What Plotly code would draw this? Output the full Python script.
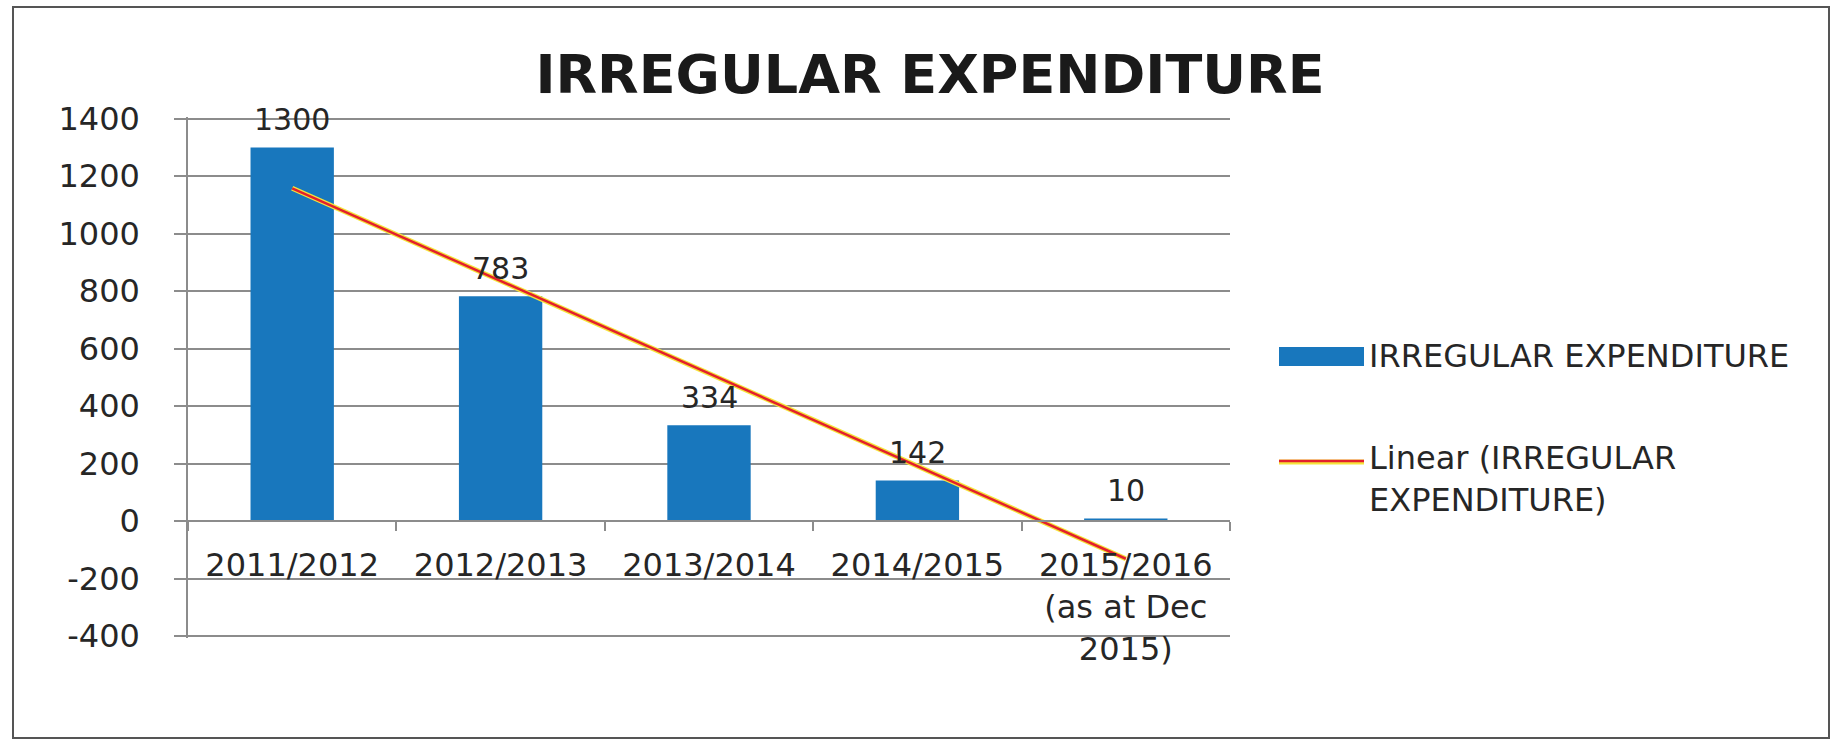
import numpy as np
import plotly.graph_objects as go

# ---- data ----
categories = ["2011/2012", "2012/2013", "2013/2014", "2014/2015", "2015/2016<br>(as at Dec<br>2015)"]
values = [1300, 783, 334, 142, 10]
y_ticks = [-400, -200, 0, 200, 400, 600, 800, 1000, 1200, 1400]
y_tick_text = [str(v) for v in y_ticks]
title_text = "IRREGULAR EXPENDITURE"
series_name = "IRREGULAR EXPENDITURE"
trend_name = "Linear (IRREGULAR<br>EXPENDITURE)"

# Excel-style linear trendline (least squares on category index)
idx = np.arange(1, len(values) + 1)
slope, intercept = np.polyfit(idx, values, 1)
trend = slope * idx + intercept

# ---- layout geometry ----
W, H = 1838, 742
L, R, T, B = 188, 608, 117, 104
PW, PH = W - L - R, H - T - B
YMIN, YMAX = -400, 1400
EPS = 6

def px_x(px):
    return (px - L) / PW

def px_y(py):
    return (H - B - py) / PH

FONT = "DejaVu Sans"
GRID = "#8c8c8c"
BLUE = "#1877bd"
RED = "#e3202c"
YELLOW = "#f5e43a"
TXT = "#262626"

fig = go.Figure()
fig.add_trace(go.Bar(x=categories, y=values, marker_color=BLUE, marker_line_width=0,
                     name=series_name, showlegend=False))
fig.add_trace(go.Scatter(x=categories, y=trend, mode="lines",
                         line=dict(color=YELLOW, width=5), showlegend=False, hoverinfo="skip"))
fig.add_trace(go.Scatter(x=categories, y=trend, mode="lines",
                         line=dict(color=RED, width=2.5), name=trend_name, showlegend=False))

annotations = []
for c, v in zip(categories, values):
    annotations.append(dict(x=c, y=v, xref="x", yref="y", text=str(v), showarrow=False,
                            yanchor="bottom", yshift=8,
                            font=dict(family=FONT, size=30, color=TXT)))

# custom legend
shapes = [
    dict(type="rect", xref="paper", yref="paper", x0=px_x(1279), x1=px_x(1364),
         y0=px_y(366), y1=px_y(347), fillcolor=BLUE, line=dict(width=0)),
    dict(type="line", xref="paper", yref="paper", x0=px_x(1279), x1=px_x(1364),
         y0=px_y(462), y1=px_y(462), line=dict(color=YELLOW, width=5)),
    dict(type="line", xref="paper", yref="paper", x0=px_x(1279), x1=px_x(1364),
         y0=px_y(461), y1=px_y(461), line=dict(color=RED, width=2.5)),
    # outer chart frame
    dict(type="rect", xref="paper", yref="paper", x0=px_x(13), x1=px_x(1829),
         y0=px_y(738), y1=px_y(7), line=dict(color="#555555", width=2), fillcolor="rgba(0,0,0,0)"),
]
annotations.append(dict(xref="paper", yref="paper", x=px_x(1367), y=px_y(356), text=series_name,
                        showarrow=False, xanchor="left", yanchor="middle",
                        font=dict(family=FONT, size=32, color=TXT)))
annotations.append(dict(xref="paper", yref="paper", x=px_x(1367), y=px_y(437), text=trend_name,
                        showarrow=False, xanchor="left", yanchor="top", align="left",
                        font=dict(family=FONT, size=32, color=TXT)))

fig.update_layout(
    width=W, height=H,
    margin=dict(l=L, r=R, t=T, b=B, pad=0),
    paper_bgcolor="white", plot_bgcolor="white",
    bargap=0.6,
    showlegend=False,
    title=dict(text="<b>" + title_text + "</b>", xref="container", yref="container",
               x=930 / W, y=1 - 74 / H, xanchor="center", yanchor="middle",
               font=dict(family=FONT, size=54, color="#1a1a1a")),
    xaxis=dict(type="category", anchor="free", position=(0 - YMIN + EPS) / (YMAX - YMIN + 2 * EPS),
               showline=True, linecolor=GRID, linewidth=1.5,
               ticks="outside", tickson="boundaries", ticklen=9, tickcolor=GRID, tickwidth=1.5,
               showgrid=False, zeroline=False, ticklabelstandoff=16,
               tickfont=dict(family=FONT, size=32, color=TXT)),
    yaxis=dict(range=[YMIN - EPS, YMAX + EPS], tickvals=y_ticks, ticktext=y_tick_text,
               showgrid=True, gridcolor=GRID, gridwidth=1.5,
               showline=True, linecolor=GRID, linewidth=1.5, zeroline=False,
               ticks="outside", ticklen=12, tickcolor=GRID, tickwidth=1.5,
               ticklabelstandoff=28,
               tickfont=dict(family=FONT, size=32, color=TXT)),
    shapes=shapes,
    annotations=annotations,
)

fig.write_html("out.html")
